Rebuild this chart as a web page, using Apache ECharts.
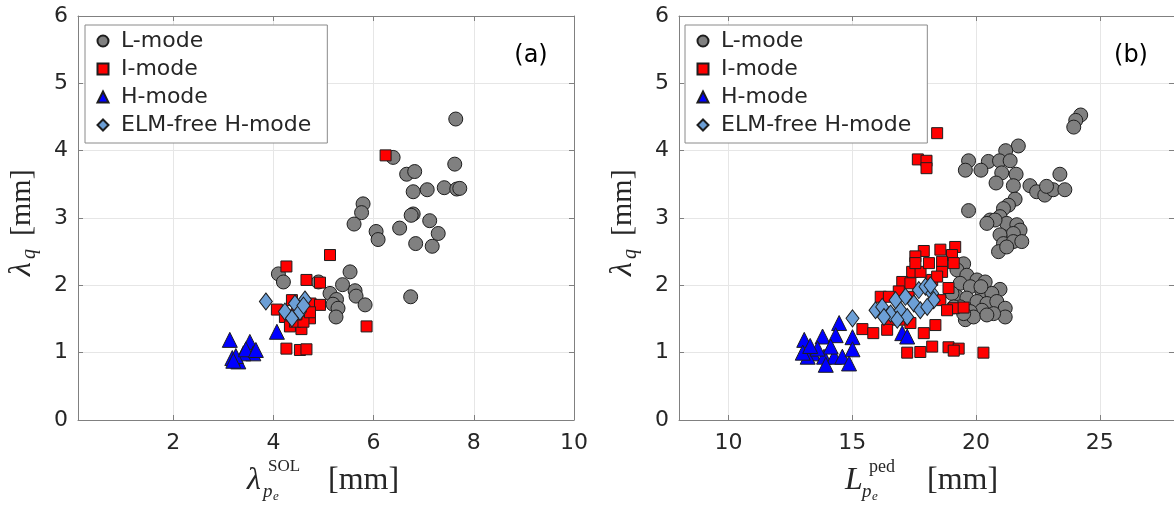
<!DOCTYPE html>
<html>
<head>
<meta charset="utf-8">
<script src="https://cdn.jsdelivr.net/npm/echarts@6/dist/echarts.min.js"></script>
<style>html,body{margin:0;padding:0;background:#fff}#c{width:1174px;height:508px}</style>
</head>
<body>
<div id="c"></div>
<script>
// ---------- DATA ----------
const seriesNames = ['L-mode', 'I-mode', 'H-mode', 'ELM-free H-mode'];
const xRangeA = [0.1, 10];
const xRangeB = [8, 28];
const yRange = [0, 6];

// panel (a): lambda_pe^SOL vs lambda_q
const aLmode = [[7.64,4.47],[6.39,3.90],[7.62,3.80],[6.66,3.65],[6.82,3.69],[6.79,3.39],[7.07,3.42],[7.41,3.45],[7.66,3.43],[7.72,3.44],[5.79,3.21],[5.76,3.08],[5.61,2.91],[6.05,2.80],[6.09,2.68],[6.52,2.85],[6.79,3.06],[6.75,3.04],[7.12,2.96],[7.29,2.77],[6.84,2.62],[7.17,2.58],[6.74,1.83],[4.10,2.17],[4.20,2.05],[4.90,2.05],[5.53,2.20],[5.38,2.01],[5.63,1.92],[5.65,1.84],[5.13,1.88],[5.26,1.79],[5.19,1.72],[5.29,1.66],[5.25,1.53],[5.83,1.71]];
const aImode = [[6.24,3.93],[5.13,2.45],[4.26,2.28],[4.66,2.08],[4.93,2.04],[4.07,1.64],[4.37,1.78],[4.74,1.73],[4.93,1.71],[4.23,1.53],[4.33,1.39],[4.56,1.35],[4.73,1.51],[4.43,1.46],[4.60,1.46],[5.86,1.39],[4.26,1.06],[4.53,1.04],[4.66,1.05],[4.73,1.60],[4.46,1.57]];
const aHmode = [[3.13,1.19],[3.30,0.87],[3.53,1.16],[3.60,0.99],[3.40,0.99],[3.18,0.92],[3.25,0.95],[3.45,1.05],[3.65,1.04],[3.20,0.88],[4.07,1.31]];
const aELMfree = [[3.85,1.76],[4.43,1.73],[4.63,1.79],[4.23,1.61],[4.53,1.61],[4.37,1.51],[4.60,1.70]];

// panel (b): L_pe^ped vs lambda_q
const bLmode = [[24.23,4.53],[24.03,4.45],[23.95,4.35],[21.71,4.07],[21.20,4.00],[19.70,3.85],[20.50,3.84],[20.95,3.85],[21.38,3.85],[19.57,3.71],[20.20,3.71],[21.04,3.67],[21.62,3.65],[20.81,3.52],[21.51,3.48],[22.18,3.48],[22.45,3.39],[22.78,3.34],[23.12,3.42],[23.59,3.42],[23.39,3.65],[22.85,3.47],[19.70,3.11],[21.58,3.28],[21.31,3.19],[21.11,3.14],[20.57,2.97],[20.97,3.02],[21.24,2.92],[21.65,2.90],[21.78,2.82],[21.51,2.77],[20.97,2.75],[21.11,2.62],[21.51,2.65],[21.85,2.65],[20.91,2.50],[21.24,2.57],[20.77,2.97],[20.44,2.92],
  [19.50,2.32],[19.23,2.23],[19.63,2.15],[20.04,2.08],[20.37,2.05],[20.97,1.94],[19.36,2.03],[19.77,1.98],[20.24,1.91],[20.64,1.88],[19.23,1.83],[19.63,1.81],[20.04,1.76],[20.44,1.73],[20.84,1.76],[21.18,1.66],[21.18,1.53],[20.71,1.58],[20.24,1.63],[19.77,1.61],[19.36,1.68],[19.57,1.49],[19.90,1.53],[20.44,1.56],[19.03,1.88],[19.10,1.68],[19.50,1.58],[20.20,1.98]];
const bImode = [[18.43,4.26],[17.65,3.87],[18.00,3.85],[18.00,3.74],[17.89,2.51],[17.55,2.43],[18.56,2.53],[19.16,2.57],[19.03,2.45],[18.63,2.35],[19.10,2.33],[18.63,2.20],[17.42,2.20],[17.76,2.20],[17.02,2.05],[17.35,2.03],[18.23,2.08],[18.43,2.13],[18.89,1.96],[16.88,1.91],[16.15,1.83],[16.48,1.83],[18.56,1.78],[19.10,1.66],[19.50,1.67],[18.83,1.63],[17.28,1.83],[16.55,1.49],[16.95,1.49],[17.35,1.44],[17.89,1.29],[18.36,1.41],[15.41,1.35],[15.85,1.29],[16.41,1.34],[17.22,1.00],[17.75,1.01],[18.23,1.09],[18.89,1.08],[19.30,1.06],[19.10,1.03],[20.30,1.00],[17.55,2.33],[18.10,2.33]];
const bHmode = [[14.47,1.44],[13.80,1.24],[14.33,1.26],[15.01,1.23],[13.06,1.19],[13.40,0.99],[13.86,0.94],[14.27,0.94],[14.60,0.94],[15.01,1.05],[14.87,0.84],[13.93,0.82],[13.20,0.94],[17.02,1.29],[17.22,1.24],[14.13,1.09],[13.60,1.06],[13.00,1.00],[13.30,1.10]];
const bELMfree = [[15.01,1.51],[15.94,1.63],[16.21,1.68],[16.55,1.58],[16.95,1.63],[16.75,1.78],[17.15,1.83],[17.49,1.73],[17.69,1.93],[17.96,1.98],[18.23,1.88],[18.29,1.78],[17.75,1.63],[16.28,1.53],[17.22,1.53],[18.03,1.68],[18.16,2.00],[16.82,1.49]];

// ---------- STYLE ----------
const edge = '#1e1e1e';
const styles = {
  'L-mode': {symbol: 'circle', size: 14, color: '#808080'},
  'I-mode': {symbol: 'rect', size: 11, color: '#ff0000'},
  'H-mode': {symbol: 'triangle', size: 15, color: '#0000ff'},
  'ELM-free H-mode': {symbol: 'diamond', size: [13, 17], color: '#6c9fd6'}
};
const zOrder = {'L-mode': 1, 'I-mode': 2, 'ELM-free H-mode': 3, 'H-mode': 4};

function mkSeries(name, data, idx) {
  const s = styles[name];
  return {
    type: 'scatter', name: name, data: data,
    xAxisIndex: idx * 2, yAxisIndex: idx * 2,
    symbol: s.symbol, symbolSize: s.size,
    z: 2 + zOrder[name],
    itemStyle: {color: s.color, borderColor: edge, borderWidth: 1, opacity: 1},
    emphasis: {disabled: true}
  };
}

const tickFont = {fontFamily: 'DejaVu Sans', fontSize: 22, color: '#262626'};
function mkX(idx, range, splitNumber, pos) {
  const main = pos === 'bottom';
  return {
    type: 'value', gridIndex: idx, min: range[0], max: range[1], splitNumber: splitNumber,
    position: pos,
    axisLine: {show: true, onZero: false, lineStyle: {color: '#808080', width: 1}},
    axisTick: {show: true, inside: true, length: 5, lineStyle: {color: '#808080'}},
    splitLine: {show: main, lineStyle: {color: '#e6e6e6', width: 1}},
    axisLabel: Object.assign({show: main, margin: 12, showMinLabel: false, showMaxLabel: range[1] === 10}, tickFont)
  };
}
function mkY(idx, pos) {
  const main = pos === 'left';
  return {
    type: 'value', gridIndex: idx, min: yRange[0], max: yRange[1], splitNumber: 6,
    position: pos,
    axisLine: {show: true, onZero: false, lineStyle: {color: '#808080', width: 1}},
    axisTick: {show: true, inside: true, length: 5, lineStyle: {color: '#808080'}},
    splitLine: {show: main, lineStyle: {color: '#e6e6e6', width: 1}},
    axisLabel: Object.assign({show: main, margin: 10}, tickFont)
  };
}
function mkLegend(left) {
  return {
    orient: 'vertical', left: left, top: 25,
    data: seriesNames,
    itemWidth: 11, itemHeight: 11, itemGap: 6,
    padding: [5, 16, 7, 11.5],
    backgroundColor: '#ffffff', borderColor: '#8a8a8a', borderWidth: 1, borderRadius: 0,
    textStyle: {fontFamily: 'DejaVu Sans', fontSize: 22, color: '#262626', lineHeight: 22, padding: [0, 0, 0, 7.5]},
    selectedMode: false
  };
}

function serifText(x, y, str, size, italic, align) {
  return {type: 'text', x: x, y: y, silent: true,
    style: {text: str, fontFamily: 'Liberation Serif', fontSize: size, fontStyle: italic ? 'italic' : 'normal',
      fill: '#262626', align: align || 'left', verticalAlign: 'middle'}};
}
function yTitle(cx) {
  return {type: 'group', x: cx, y: 222, rotation: Math.PI / 2, silent: true, children: [
    serifText(-54, 0, 'λ', 32, true),
    serifText(-37, 8, 'q', 20, true),
    serifText(-14, 0, '[mm]', 30, false)
  ]};
}

const chart = echarts.init(document.getElementById('c'), null, {renderer: 'canvas'});
chart.setOption({
  backgroundColor: '#ffffff',
  animation: false,
  grid: [
    {left: 78, top: 16, width: 496, height: 404, show: false},
    {left: 679, top: 16, width: 495, height: 404, show: false}
  ],
  xAxis: [mkX(0, xRangeA, 5, 'bottom'), mkX(0, xRangeA, 5, 'top'), mkX(1, xRangeB, 4, 'bottom'), mkX(1, xRangeB, 4, 'top')],
  yAxis: [mkY(0, 'left'), mkY(0, 'right'), mkY(1, 'left'), mkY(1, 'right')],
  legend: [mkLegend(85), mkLegend(685)],
  series: [
    mkSeries('L-mode', aLmode, 0), mkSeries('I-mode', aImode, 0), mkSeries('ELM-free H-mode', aELMfree, 0), mkSeries('H-mode', aHmode, 0),
    mkSeries('L-mode', bLmode, 1), mkSeries('I-mode', bImode, 1), mkSeries('ELM-free H-mode', bELMfree, 1), mkSeries('H-mode', bHmode, 1)
  ],
  graphic: [
    {type: 'text', x: 531, y: 56, silent: true, style: {text: '(a)', fontFamily: 'DejaVu Sans', fontSize: 24, fill: '#000', align: 'center', verticalAlign: 'middle'}},
    {type: 'text', x: 1131, y: 56, silent: true, style: {text: '(b)', fontFamily: 'DejaVu Sans', fontSize: 24, fill: '#000', align: 'center', verticalAlign: 'middle'}},
    serifText(247, 481, 'λ', 32, true),
    serifText(268, 467, 'SOL', 17, false),
    serifText(263, 492, 'p', 19, true),
    serifText(273, 497, 'e', 13, true),
    serifText(328, 481, '[mm]', 32, false),
    serifText(845, 481, 'L', 32, true),
    serifText(869, 467, 'ped', 18, false),
    serifText(862, 492, 'p', 19, true),
    serifText(872, 497, 'e', 13, true),
    serifText(927, 481, '[mm]', 32, false),
    yTitle(22), yTitle(623)
  ]
});
</script>
</body>
</html>
